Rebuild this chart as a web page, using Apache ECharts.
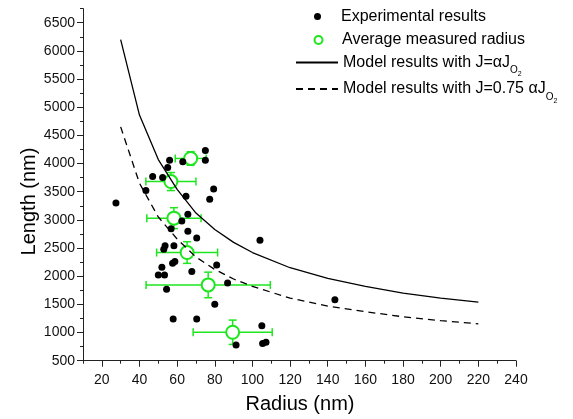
<!DOCTYPE html>
<html>
<head>
<meta charset="utf-8">
<script src="https://cdn.jsdelivr.net/npm/echarts@6/dist/echarts.min.js"></script>
<style>
  html, body { margin: 0; padding: 0; background: #fff; }
  #chart { width: 573px; height: 419px; }
</style>
</head>
<body>
<div id="chart"></div>
<script>
// Individual measurements: radius (nm) and length (nm)
const expRadius = [27.5, 43.4, 47, 52.3, 55, 56, 63, 75, 75, 79.4, 77.3, 64.7, 65.7, 62.5, 56.8, 65.7, 70.4,
  53.6, 52.9, 58.3, 57.6, 58.8, 51.9, 50, 53.3, 67.8, 54.4, 86.8, 80, 57.9, 70.4, 105, 91.3, 105.4, 107.2,
  104, 143.8, 81];
const expLength = [3300, 3520, 3770, 3750, 3930, 4060, 4030, 4230, 4060, 3550, 3365, 3420, 3100, 2980, 2840, 2800, 2680,
  2540, 2480, 2540, 2230, 2260, 2160, 2020, 2020, 2085, 1770, 1880, 1500, 1240, 1240, 1120, 780, 805, 827,
  2640, 1580, 2200];

// Averages with their spread
const avgRadius = [67.2, 56.7, 58.3, 65.3, 76.5, 89.5];
const avgLength = [4090, 3680, 3030, 2420, 1845, 1005];
const radiusErr = [8.2, 13.3, 14.4, 16.2, 33, 21];
const lengthErr = [120, 160, 186, 192, 227, 216];

// Model curves
const modelRadius = [30, 40, 50, 60, 70, 80, 90, 100, 120, 140, 160, 180, 200, 220];
const modelFull = [6200, 4860, 4070, 3540, 3120, 2830, 2600, 2420, 2150, 1960, 1820, 1700, 1610, 1540];
const modelReduced = [4650, 3650, 3050, 2660, 2340, 2120, 1950, 1820, 1610, 1470, 1370, 1280, 1210, 1155];

// Axis ticks
const xMajorTicks = [20, 40, 60, 80, 100, 120, 140, 160, 180, 200, 220, 240];
const xMinorTicks = [10, 30, 50, 70, 90, 110, 130, 150, 170, 190, 210, 230];
const yMajorTicks = [500, 1000, 1500, 2000, 2500, 3000, 3500, 4000, 4500, 5000, 5500, 6000, 6500];
const yMinorTicks = [750, 1250, 1750, 2250, 2750, 3250, 3750, 4250, 4750, 5250, 5750, 6250, 6750];

const FONT = '"Liberation Sans", Arial, sans-serif';
const GREEN = '#1ee61e';
const AXIS = '#222';

const chart = echarts.init(document.getElementById('chart'), null, { renderer: 'canvas' });

const pair = (xs, ys) => xs.map((x, i) => [x, ys[i]]);

const legendBase = {
  orient: 'vertical',
  padding: 0,
  itemGap: 0,
  selectedMode: false,
  textStyle: { fontFamily: FONT, fontSize: 16, color: '#000', lineHeight: 20 }
};

const subRich = {
  a: { fontFamily: FONT, fontSize: 16, color: '#000', lineHeight: 30 },
  s: { fontFamily: FONT, fontSize: 10, color: '#000', padding: [16, 0, 0, 0] },
  ss: { fontFamily: FONT, fontSize: 7, color: '#000', padding: [24, 0, 0, 0] }
};

const hiddenSymbol = { color: 'rgba(0,0,0,0)', borderColor: 'rgba(0,0,0,0)', borderWidth: 0 };

const option = {
  animation: false,
  backgroundColor: '#fff',
  grid: { left: 83, right: 57, top: 8.6, bottom: 58.3, containLabel: false },
  legend: [
    Object.assign({}, legendBase, {
      left: 314, top: 6.5, itemWidth: 7, itemHeight: 7, data: ['Experimental results'],
      textStyle: Object.assign({}, legendBase.textStyle, { padding: [0, 0, 0, 15] })
    }),
    Object.assign({}, legendBase, {
      left: 313.5, top: 30, itemWidth: 8, itemHeight: 8, data: ['Average measured radius'],
      textStyle: Object.assign({}, legendBase.textStyle, { padding: [0, 0, 0, 14.5] })
    }),
    Object.assign({}, legendBase, {
      left: 295, top: 47.5, itemWidth: 42, itemHeight: 8, data: ['Model results with J=αJO2'],
      itemStyle: hiddenSymbol,
      formatter: () => '{a|Model results with J=αJ}{s|O}{ss|2}',
      textStyle: { rich: subRich, lineHeight: 30 }
    }),
    Object.assign({}, legendBase, {
      left: 295, top: 74, itemWidth: 42, itemHeight: 8, data: ['Model results with J=0.75 αJO2'],
      itemStyle: hiddenSymbol,
      formatter: () => '{a|Model results with J=0.75 αJ}{s|O}{ss|2}',
      textStyle: { rich: subRich, lineHeight: 30 }
    })
  ],
  xAxis: [
    {
      type: 'value', min: 10, max: 240, position: 'bottom',
      axisLine: { onZero: false, lineStyle: { color: AXIS, width: 1 } },
      axisTick: { customValues: xMajorTicks, length: 6, lineStyle: { color: AXIS } },
      axisLabel: { customValues: xMajorTicks, formatter: v => String(v), fontFamily: FONT, fontSize: 14, color: '#111', margin: 12 },
      splitLine: { show: false }
    },
    {
      type: 'value', min: 10, max: 240, position: 'bottom',
      axisLine: { show: false, onZero: false },
      axisTick: { customValues: xMinorTicks, length: 3, lineStyle: { color: AXIS } },
      axisLabel: { show: false },
      splitLine: { show: false }
    }
  ],
  yAxis: [
    {
      type: 'value', min: 500, max: 6750, position: 'left',
      axisLine: { show: true, onZero: false, lineStyle: { color: AXIS, width: 1 } },
      axisTick: { show: true, customValues: yMajorTicks, length: 6, lineStyle: { color: AXIS } },
      axisLabel: { customValues: yMajorTicks, formatter: v => String(v), fontFamily: FONT, fontSize: 14, color: '#111', margin: 8 },
      splitLine: { show: false }
    },
    {
      type: 'value', min: 500, max: 6750, position: 'left',
      axisLine: { show: false, onZero: false },
      axisTick: { show: true, customValues: yMinorTicks, length: 3, lineStyle: { color: AXIS } },
      axisLabel: { show: false },
      splitLine: { show: false }
    }
  ],
  graphic: [
    {
      type: 'text', x: 300, y: 404.5, z: 10,
      style: { text: 'Radius (nm)', fontFamily: FONT, fontSize: 20, fill: '#000', align: 'center', verticalAlign: 'middle' }
    },
    {
      type: 'text', x: 29.5, y: 201.5, rotation: Math.PI / 2, z: 10,
      style: { text: 'Length (nm)', fontFamily: FONT, fontSize: 20, fill: '#000', align: 'center', verticalAlign: 'middle' }
    }
  ],
  series: [
    {
      // error bars for the averages
      type: 'custom',
      name: 'errorbars',
      z: 2,
      silent: true,
      data: avgRadius.map((r, i) => [r, avgLength[i], radiusErr[i], lengthErr[i]]),
      renderItem: function (params, api) {
        const x = api.value(0), y = api.value(1), dx = api.value(2), dy = api.value(3);
        const l = api.coord([x - dx, y]);
        const r = api.coord([x + dx, y]);
        const t = api.coord([x, y + dy]);
        const b = api.coord([x, y - dy]);
        const c = 4;
        const style = { stroke: GREEN, lineWidth: 1.5, fill: null };
        return {
          type: 'group',
          children: [
            { type: 'line', shape: { x1: l[0], y1: l[1], x2: r[0], y2: r[1] }, style },
            { type: 'line', shape: { x1: l[0], y1: l[1] - c, x2: l[0], y2: l[1] + c }, style },
            { type: 'line', shape: { x1: r[0], y1: r[1] - c, x2: r[0], y2: r[1] + c }, style },
            { type: 'line', shape: { x1: t[0], y1: t[1], x2: b[0], y2: b[1] }, style },
            { type: 'line', shape: { x1: t[0] - c, y1: t[1], x2: t[0] + c, y2: t[1] }, style },
            { type: 'line', shape: { x1: b[0] - c, y1: b[1], x2: b[0] + c, y2: b[1] }, style }
          ]
        };
      }
    },
    {
      name: 'Average measured radius',
      type: 'scatter',
      z: 3,
      symbol: 'emptyCircle',
      symbolSize: 13,
      itemStyle: { color: GREEN, borderColor: GREEN, borderWidth: 1.5, opacity: 1 },
      emphasis: { disabled: true },
      data: pair(avgRadius, avgLength)
    },
    {
      name: 'Experimental results',
      type: 'scatter',
      z: 4,
      symbol: 'circle',
      symbolSize: 7,
      itemStyle: { color: '#000', opacity: 1 },
      emphasis: { disabled: true },
      data: pair(expRadius, expLength)
    },
    {
      name: 'Model results with J=αJO2',
      type: 'line',
      z: 5,
      symbol: 'none',
      smooth: false,
      lineStyle: { color: '#000', width: 1.3, type: 'solid' },
      itemStyle: { color: '#000' },
      emphasis: { disabled: true },
      data: pair(modelRadius, modelFull)
    },
    {
      name: 'Model results with J=0.75 αJO2',
      type: 'line',
      z: 5,
      symbol: 'none',
      smooth: false,
      lineStyle: { color: '#000', width: 1.3, type: [7, 5] },
      itemStyle: { color: '#000' },
      emphasis: { disabled: true },
      data: pair(modelRadius, modelReduced)
    }
  ]
};

chart.setOption(option);
</script>
</body>
</html>
